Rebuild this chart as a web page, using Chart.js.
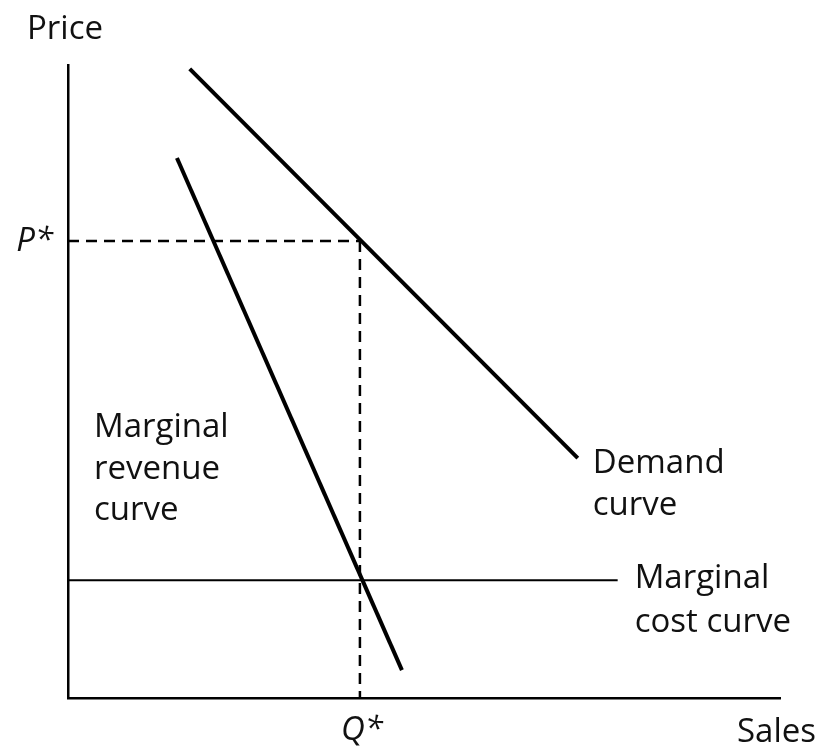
<!DOCTYPE html>
<html>
<head>
<meta charset="utf-8">
<script src="https://cdn.jsdelivr.net/npm/chart.js@4"></script>
<style>
  html, body { margin: 0; padding: 0; background: #fff; }
  #wrap { width: 821px; height: 748px; }
</style>
</head>
<body>
<div id="wrap"><canvas id="chart" width="821" height="748"></canvas></div>
<script>
// values (arbitrary units, 0-100 on both axes)
const demandX = [17.1, 71.6];
const demandY = [99.4, 37.9];
const mrX = [15.3, 46.9];
const mrY = [85.3, 4.4];
const mcX = [0, 77.2];
const mcLevel = 18.6;
const qStar = 41.0;
const pStar = 72.2;

const toPoints = (xs, ys) => xs.map((x, i) => ({ x: x, y: ys[i] }));

const FONT = '"Open Sans", "DejaVu Sans", sans-serif';

// text labels drawn on top of the plot
const textPlugin = {
    id: 'econText',
    afterDraw(chart) {
        const ctx = chart.ctx;
        const a = chart.chartArea;
        const xs = chart.scales.x, ys = chart.scales.y;
        ctx.save();
        ctx.fillStyle = '#111';
        ctx.textBaseline = 'alphabetic';
        ctx.font = '33px ' + FONT;
        ctx.textAlign = 'left';
        ctx.fillText('Price', a.left - 41, a.top - 26);
        ctx.fillText('Sales', a.right - 43, a.bottom + 44);
        // multi-line curve labels
        const lines = (arr, x, y0, gap) => arr.forEach((t, i) => ctx.fillText(t, x, y0 + i * gap));
        lines(['Marginal', 'revenue', 'curve'], a.left + 26, 437, 41.5);
        lines(['Demand', 'curve'], xs.getPixelForValue(demandX[1]) + 15, 473, 42);
        lines(['Marginal', 'cost curve'], xs.getPixelForValue(mcX[1]) + 17, 588, 44);
        ctx.font = 'italic 33px ' + FONT;
        ctx.textAlign = 'right';
        ctx.fillText('P*', a.left - 15, ys.getPixelForValue(pStar) + 10);
        ctx.textAlign = 'center';
        ctx.fillText('Q*', xs.getPixelForValue(qStar) + 2, a.bottom + 42);
        ctx.restore();
    }
};

const line = (data, width, dash) => ({
    data: data,
    showLine: true,
    borderColor: '#000',
    borderWidth: width,
    borderDash: dash || [],
    borderCapStyle: 'butt',
    pointRadius: 0,
    fill: false,
    tension: 0
});

new Chart(document.getElementById('chart').getContext('2d'), {
    type: 'scatter',
    data: {
        datasets: [
            line(toPoints(demandX, demandY), 4),
            line(toPoints(mrX, mrY), 4),
            line(toPoints(mcX, [mcLevel, mcLevel]), 2),
            line([{ x: 0, y: pStar }, { x: qStar, y: pStar }], 2.5, [11, 7]),
            line([{ x: qStar, y: pStar }, { x: qStar, y: 0 }], 2.5, [11, 7])
        ]
    },
    options: {
        responsive: false,
        animation: false,
        layout: { padding: { left: 68, top: 65, right: 41, bottom: 50 } },
        plugins: { legend: { display: false }, tooltip: { enabled: false } },
        scales: {
            x: {
                type: 'linear', min: 0, max: 100,
                ticks: { display: false },
                grid: { display: false, drawTicks: false },
                border: { display: true, color: '#000', width: 2.5 }
            },
            y: {
                type: 'linear', min: 0, max: 100,
                ticks: { display: false },
                grid: { display: false, drawTicks: false },
                border: { display: true, color: '#000', width: 2.5 }
            }
        }
    },
    plugins: [textPlugin]
});
</script>
</body>
</html>
